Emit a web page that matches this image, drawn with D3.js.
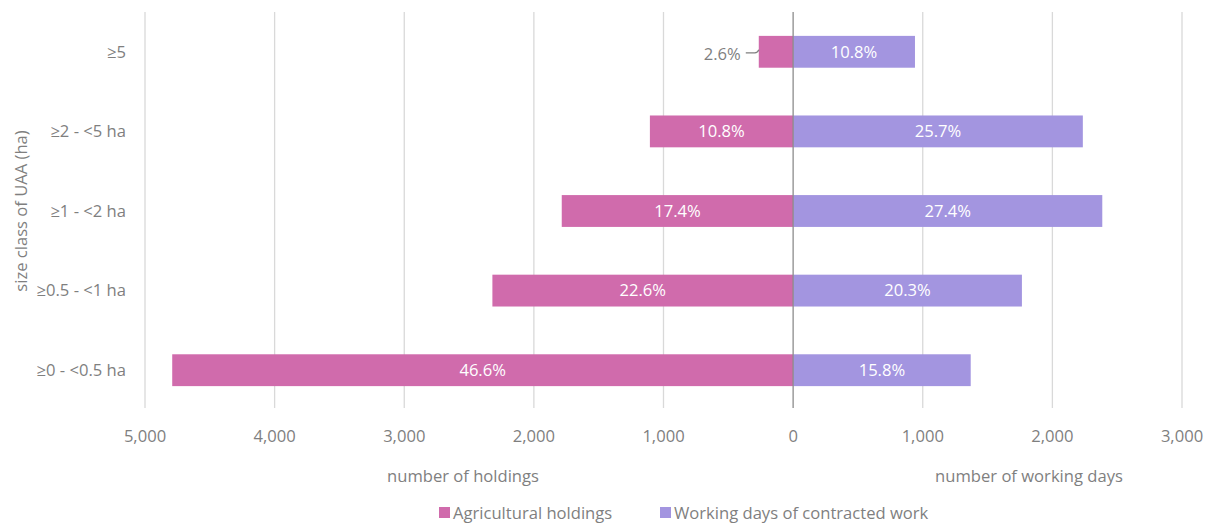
<!DOCTYPE html>
<html>
<head>
<meta charset="utf-8">
<script src="https://cdn.jsdelivr.net/npm/d3@7/dist/d3.min.js"></script>
<style>
  html, body { margin: 0; padding: 0; background: #fff; }
  svg text { font-family: "Open Sans", Lato, sans-serif; }
</style>
</head>
<body>
<svg id="chart" width="1207" height="523"></svg>
<script>
// Size classes, top to bottom
const categories = ["≥5", "≥2 - <5 ha", "≥1 - <2 ha", "≥0.5 - <1 ha", "≥0 - <0.5 ha"];
// Number of agricultural holdings per size class
const holdings = [265, 1105, 1785, 2320, 4790];
const holdingsShare = ["2.6%", "10.8%", "17.4%", "22.6%", "46.6%"];
// Working days of contracted work per size class
const workingDays = [940, 2235, 2385, 1765, 1370];
const workingDaysShare = ["10.8%", "25.7%", "27.4%", "20.3%", "15.8%"];
// Axis ticks (holdings run to the left of zero)
const tickValues = [-5000, -4000, -3000, -2000, -1000, 0, 1000, 2000, 3000];
const seriesNames = ["Agricultural holdings", "Working days of contracted work"];

const colors = { holdings: "#d06bac", days: "#a395e0" };
const textGray = "#7f7f7f";

const svg = d3.select("#chart");
const margin = { left: 145, right: 25, top: 12, bottom: 113 };

const x = d3.scaleLinear().domain([-5000, 3000]).range([margin.left, 1182]);
const y = d3.scaleBand().domain(categories).range([margin.top, 410]).paddingInner(0.6).paddingOuter(0.3);

// vertical gridlines
svg.append("g").selectAll("line").data(tickValues.filter(d => d !== 0)).join("line")
  .attr("x1", d => x(d)).attr("x2", d => x(d))
  .attr("y1", margin.top).attr("y2", 408)
  .attr("stroke", "#d9d9d9").attr("stroke-width", 1.3);

// holdings bars (left side)
svg.append("g").selectAll("rect").data(categories).join("rect")
  .attr("x", (d, i) => x(-holdings[i]))
  .attr("y", d => y(d))
  .attr("width", (d, i) => x(0) - x(-holdings[i]))
  .attr("height", y.bandwidth())
  .attr("fill", colors.holdings);

// working days bars (right side)
svg.append("g").selectAll("rect").data(categories).join("rect")
  .attr("x", x(0))
  .attr("y", d => y(d))
  .attr("width", (d, i) => x(workingDays[i]) - x(0))
  .attr("height", y.bandwidth())
  .attr("fill", colors.days);

// zero line
svg.append("line")
  .attr("x1", x(0)).attr("x2", x(0))
  .attr("y1", margin.top).attr("y2", 408)
  .attr("stroke", "#8c8c8c").attr("stroke-width", 1.3);

// value labels
const fs = 16.6;
categories.forEach((c, i) => {
  const cy = y(c) + y.bandwidth() / 2;
  const left = x(-holdings[i]), right = x(0);
  if (right - left > 60) {
    svg.append("text").attr("x", (left + right) / 2).attr("y", cy)
      .attr("dy", "0.35em").attr("text-anchor", "middle")
      .attr("fill", "#fff").attr("font-size", fs).text(holdingsShare[i]);
  } else {
    // label placed outside with a short leader line
    svg.append("path")
      .attr("d", `M${left - 13},${cy + 1} L${left - 4},${cy + 1} Q${left - 1},${cy + 1} ${left},${cy - 2}`)
      .attr("fill", "none").attr("stroke", textGray).attr("stroke-width", 1.2);
    svg.append("text").attr("x", left - 18).attr("y", cy + 2)
      .attr("dy", "0.35em").attr("text-anchor", "end")
      .attr("fill", textGray).attr("font-size", fs).text(holdingsShare[i]);
  }
  svg.append("text").attr("x", (x(0) + x(workingDays[i])) / 2).attr("y", cy)
    .attr("dy", "0.35em").attr("text-anchor", "middle")
    .attr("fill", "#fff").attr("font-size", fs).text(workingDaysShare[i]);
});

// category axis labels
svg.append("g").selectAll("text").data(categories).join("text")
  .attr("x", 126).attr("y", d => y(d) + y.bandwidth() / 2)
  .attr("dy", "0.35em").attr("text-anchor", "end")
  .attr("fill", textGray).attr("font-size", fs).text(d => d);

// x tick labels (absolute values)
const fmt = d3.format(",");
svg.append("g").selectAll("text").data(tickValues).join("text")
  .attr("x", d => x(d)).attr("y", 436).attr("dy", "0.35em")
  .attr("text-anchor", "middle").attr("fill", textGray).attr("font-size", fs)
  .text(d => fmt(Math.abs(d)));

// axis titles
svg.append("text").attr("x", 463).attr("y", 476).attr("dy", "0.35em")
  .attr("text-anchor", "middle").attr("fill", textGray).attr("font-size", fs)
  .text("number of holdings");
svg.append("text").attr("x", 1029).attr("y", 476).attr("dy", "0.35em")
  .attr("text-anchor", "middle").attr("fill", textGray).attr("font-size", fs)
  .text("number of working days");
svg.append("text")
  .attr("transform", `translate(21,211) rotate(-90)`).attr("dy", "0.35em")
  .attr("text-anchor", "middle").attr("fill", textGray).attr("font-size", fs)
  .text("size class of UAA (ha)");

// legend
const legend = svg.append("g");
const legendX = [439, 660];
[colors.holdings, colors.days].forEach((col, i) => {
  legend.append("rect").attr("x", legendX[i]).attr("y", 507).attr("width", 11).attr("height", 11).attr("fill", col);
  legend.append("text").attr("x", legendX[i] + 14).attr("y", 513).attr("dy", "0.35em")
    .attr("fill", textGray).attr("font-size", fs).text(seriesNames[i]);
});
</script>
</body>
</html>
